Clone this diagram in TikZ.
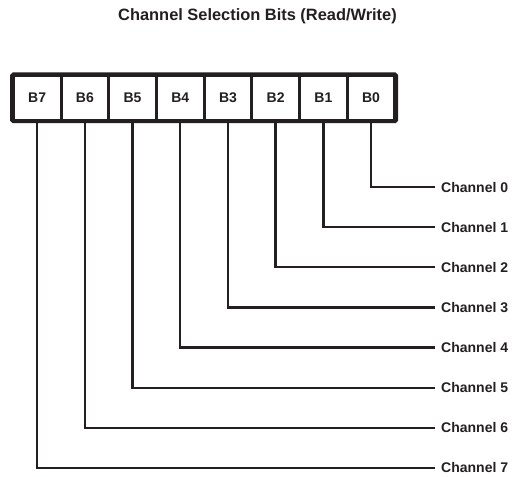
\documentclass[tikz,border=0pt]{standalone}
\usepackage{fontspec}
\setmainfont{Liberation Sans}
\definecolor{ink}{HTML}{231F20}
\begin{document}
\begin{tikzpicture}[x=1pt,y=-1pt,
  cell/.style={draw=ink,line width=3pt,minimum width=47.7pt,minimum height=44.3pt,inner sep=0pt,
    font=\fontsize{14}{16}\selectfont\bfseries,text=ink},
  chan/.style={anchor=west,inner xsep=6pt,inner ysep=0pt,font=\fontsize{14}{16}\selectfont\bfseries,text=ink},
  wire/.style={draw=ink,line width=2.4pt},
  titletext/.style={font=\fontsize{16.4}{19}\selectfont\bfseries,text=ink}]
\useasboundingbox (0,0) rectangle (513,476);
\node[titletext] (title) at (257.5,16.5) {Channel Selection Bits (Read/Write)};
\foreach \b [count=\i from 0] in {7,6,5,4,3,2,1,0} {
  \node[cell] (b\b) at (13.3+47.7*\i+23.85,97.85) {B\b};
}
\draw[ink,line width=3.4pt,rounded corners=1.5pt] (b7.north west) rectangle (b0.south east);
\foreach \c in {0,...,7} {
  \node[chan] (c\c) at (435,187+40.14*\c) {Channel \c};
  \draw[wire] (b\c.south) |- (c\c.west);
}
\end{tikzpicture}
\end{document}
